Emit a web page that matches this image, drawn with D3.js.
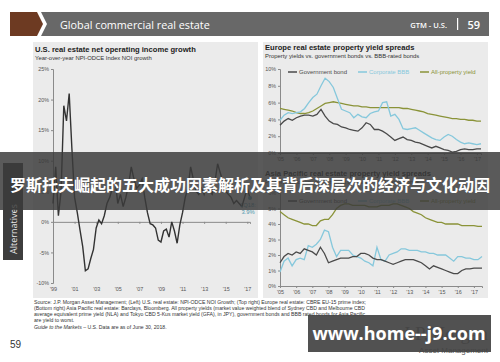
<!DOCTYPE html>
<html><head><meta charset="utf-8">
<script src="https://cdn.jsdelivr.net/npm/d3@7"></script>
<style>
body{margin:0;background:#fff;}
svg{display:block;font-family:"Liberation Sans",Arial,sans-serif;}
</style>
</head><body>
<svg id="c" width="500" height="362"></svg>
<script>
// ---------------- DATA ----------------
// Left: U.S. NPI-ODCE NOI growth, y/y %, quarterly from 1Q99
const usNoi = [
  3, 9, 1, 5,
  19, 16.5, 21, 12,
  4, 1.5, -1.3, -4,
  -8, -7.7, -6, -4.5,
  -1, 0.3, -0.3, 1,
  3, 4, 5.5, 7,
  3, 4.5, 2.5, 4,
  6, 9, 7, 5.5,
  6, 7, 4, 1.5,
  -0.3, -0.5, -1, -3,
  -3.3, -1.5, -1.2, -2.5,
  0, -1.5, -3.5, -0.5,
  1.5, 4, 5.5, 9,
  7, 5, 4.5, 5.5,
  4.5, 6, 5, 4.5,
  6.5, 9.5, 8, 6.5,
  5, 4.5, 4, 3,
  3.5, 3, 2.5, 4,
  5.5, 3.9
];
const usStartYear = 1999;
const usTickYears = [1999, 2001, 2003, 2005, 2007, 2009, 2011, 2013, 2015, 2017];
const usTickLabels = ["'99", "'01", "'03", "'05", "'07", "'09", "'11", "'13", "'15", "'17"];
const usYTicks = [-10, -5, 0, 5, 10, 15, 20, 25];
const usLastLabel = ["1Q18:", "3.9%"];

// Top right: Europe, quarterly from 1Q05 (%)
const euGov = [3.3,3.8,4.1,3.9, 4.2,4.4,4.5,4.5, 4.4,4.6,5.2,4.4, 3.8,3.5,3.4,3.1, 3.0,2.8,2.7,2.6,
  3.0,3.6,3.4,2.8, 2.8,2.6,2.3,1.9, 1.5,1.7,1.9,1.6, 1.5,1.3,1.2,1.0, 0.8,0.6,0.8,0.6,
  0.4,0.3,0.1,0.2, 0.4,0.5,0.4,0.4, 0.5,0.5];
const euBbb = [3.9,4.5,4.8,4.7, 4.8,4.9,5.3,6.0, 6.6,7.0,8.0,8.9, 8.5,7.8,6.5,5.2, 5.0,4.8,4.2,4.6,
  4.3,4.2,4.7,4.9, 5.0,6.0,6.1,4.4, 4.6,4.0,2.9,2.8, 2.9,3.0,2.7,2.4, 2.1,1.8,1.6,1.5,
  1.9,2.2,2.0,1.6, 1.3,1.1,1.2,1.1, 1.0,1.1];
const euProp = [5.3,5.2,5.1,5.0, 4.8,4.7,4.7,4.8, 5.0,5.3,5.6,5.9, 6.0,6.1,6.0,5.9, 5.8,5.7,5.6,5.6,
  5.5,5.5,5.4,5.4, 5.4,5.4,5.4,5.4, 5.4,5.4,5.3,5.3, 5.2,5.1,5.0,4.9, 4.7,4.6,4.5,4.4,
  4.3,4.2,4.1,4.1, 4.0,4.0,3.9,3.9, 3.8,3.8];
const euYTicks = [0, 2, 4, 6, 8, 10];

// Bottom right: Asia Pacific, quarterly from 1Q05 (%)
const apGov = [1.5,1.9,2.1,2.0, 2.2,2.1,2.4,2.3, 2.2,2.0,2.5,2.1, 1.5,1.6,1.7,1.8, 1.8,1.8,1.9,1.9,
  2.1,2.1,2.0,1.8, 1.7,1.7,1.6,1.5, 1.4,1.5,1.6,1.7, 1.7,1.7,1.6,1.5, 1.3,1.1,1.3,1.2,
  1.1,1.0,0.9,0.8, 0.8,1.0,1.1,1.1, 1.15,1.15,1.15];
const apBbb = [0.9,1.6,1.8,1.3, 1.7,1.8,1.7,2.6, 2.5,2.7,3.0,3.6, 3.5,2.5,1.9,2.3, 2.3,2.3,2.0,1.9,
  1.8,1.6,1.5,1.3, 2.5,1.7,1.6,2.0, 2.1,2.2,2.4,2.4, 2.3,2.3,2.3,2.2, 2.2,2.1,2.1,2.0,
  2.0,2.0,1.8,1.6, 1.9,1.9,1.8,1.8, 1.7,1.7,1.9];
const apProp = [4.8,4.6,4.4,4.3, 4.2,4.1,4.0,4.0, 3.9,3.9,4.2,4.3, 4.3,4.6,5.0,5.2, 5.3,5.3,5.2,5.2,
  5.2,5.2,5.1,5.1, 5.1,5.2,5.2,5.2, 5.3,5.3,5.2,5.1, 5.0,4.8,4.7,4.6, 4.4,4.3,4.2,4.1,
  4.1,4.0,4.0,4.0, 4.0,3.9,3.9,3.9, 3.9,3.85,3.85];
const apYTicks = [0, 1, 2, 3, 4, 5, 6];

const yieldStartYear = 2005;
const yieldTickYears = [2005,2006,2007,2008,2009,2010,2011,2012,2013,2014,2015,2016,2017];
const yieldTickLabels = ["'05","'06","'07","'08","'09","'10","'11","'12","'13","'14","'15","'16","'17"];
const legendNames = ["Government bond", "Corporate BBB", "All-property yield"];

const sourceLines = [
  "Source: J.P. Morgan Asset Management; (Left) U.S. real estate: NPI-ODCE NOI Growth; (Top right) Europe real estate: CBRE EU-15 prime index;",
  "(Bottom right) Asia Pacific real estate: Barclays, Bloomberg. All property yields (market value weighted blend of Sydney CBD and Melbourne CBD",
  "average equivalent prime yield (NLA) and Tokyo CBD 5-Kus market yield (GFA), in JPY), government bonds and BBB rated bonds for Asia Pacific",
  "are yield to worst."
];

// ---------------- STYLE ----------------
const C = {
  brown: "#6d3a22", bar: "#686868", panel: "#ebebeb", axis: "#8a8a8a", tick: "#555",
  line: "#333333", gov: "#4a4a4a", bbb: "#86c8dc", prop: "#8a9338", teal: "#4f97ad"
};
const svg = d3.select("#c");

// ---------------- HEADER ----------------
svg.append("polygon").attr("points", "10,12 37,12 43,24 37,36 10,36").attr("fill", C.brown);
svg.append("polygon").attr("points", "41,12 489,12 489,36 41,36 47,24").attr("fill", C.bar);
svg.append("text").attr("x", 60).attr("y", 28.5).attr("fill", "#fff")
  .style("font-family", "'Open Sans',sans-serif").style("font-size", "10.8px")
  .text("Global commercial real estate");
svg.append("text").attr("x", 447).attr("y", 28).attr("text-anchor", "end").attr("fill", "#fff")
  .style("font-family", "'Open Sans',sans-serif").style("font-size", "7.5px").style("font-weight", "600")
  .text("GTM - U.S.");
svg.append("rect").attr("x", 457).attr("y", 18).attr("width", 1.2).attr("height", 12).attr("fill", "#fff");
svg.append("text").attr("x", 480).attr("y", 29).attr("text-anchor", "end").attr("fill", "#fff")
  .style("font-family", "'Open Sans',sans-serif").style("font-size", "11px").style("font-weight", "600")
  .text("59");

// ---------------- PANELS ----------------
svg.append("rect").attr("x", 33).attr("y", 42).attr("width", 225).attr("height", 256).attr("fill", C.panel);
svg.append("rect").attr("x", 263).attr("y", 42).attr("width", 225).attr("height", 256).attr("fill", C.panel);

function title(x, y, t, sub) {
  svg.append("text").attr("x", x).attr("y", y).attr("fill", "#222")
    .style("font-size", "7.6px").style("font-weight", "bold").text(t);
  svg.append("text").attr("x", x).attr("y", y + 8).attr("fill", "#333")
    .style("font-size", "5.9px").text(sub);
}

function styleAxis(g) {
  g.selectAll(".domain").attr("stroke", C.axis);
  g.selectAll(".tick line").attr("stroke", C.axis);
  g.selectAll("text").attr("fill", C.tick).style("font-size", "5.4px").style("font-family", "'Liberation Sans',Arial,sans-serif");
}

// ---------------- LEFT CHART ----------------
title(35, 52, "U.S. real estate net operating income growth", "Year-over-year NPI-ODCE Index NOI growth");
const lx = d3.scaleLinear().domain([1999, 2017.25]).range([53, 250]);
const ly = d3.scaleLinear().domain([-10, 25]).range([283, 69]);
svg.append("g").attr("transform", "translate(53,0)")
  .call(d3.axisLeft(ly).tickValues(usYTicks).tickSize(2).tickPadding(2).tickFormat(d => d + "%"))
  .call(styleAxis);
svg.append("g").attr("transform", `translate(0,${ly(0)})`)
  .call(d3.axisBottom(lx).tickValues(usTickYears).tickSize(2).tickFormat(""))
  .call(styleAxis);
svg.append("g").attr("transform", `translate(0,${ly(-10)})`)
  .call(d3.axisBottom(lx).tickValues(usTickYears).tickSize(0).tickPadding(4)
    .tickFormat((d, i) => usTickLabels[i]))
  .call(styleAxis).call(g => g.select(".domain").remove());
const usPts = usNoi.map((v, i) => [usStartYear + i * 0.25, v]);
svg.append("path").datum(usPts).attr("fill", "none").attr("stroke", C.line).attr("stroke-width", 1.4)
  .attr("d", d3.line().x(d => lx(d[0])).y(d => ly(d[1])));
const last = usPts[usPts.length - 1];
svg.append("circle").attr("cx", lx(last[0])).attr("cy", ly(last[1])).attr("r", 2).attr("fill", C.teal);
usLastLabel.forEach((t, i) => {
  svg.append("text").attr("x", lx(last[0]) - 2).attr("y", ly(last[1]) + 9 + i * 7)
    .attr("text-anchor", "middle").attr("fill", C.teal).style("font-size", "5.8px").text(t);
});

// ---------------- RIGHT CHARTS ----------------
function yieldChart(cfg) {
  const x = d3.scaleLinear().domain(cfg.xDomain).range(cfg.xRange);
  const y = d3.scaleLinear().domain(cfg.yDomain).range(cfg.yRange);
  svg.append("g").attr("transform", `translate(${cfg.xRange[0]},0)`)
    .call(d3.axisLeft(y).tickValues(cfg.yTicks).tickSize(2).tickPadding(2).tickFormat(d => d + "%"))
    .call(styleAxis);
  svg.append("g").attr("transform", `translate(0,${y(0)})`)
    .call(d3.axisBottom(x).tickValues(yieldTickYears).tickSize(2).tickPadding(2)
      .tickFormat((d, i) => yieldTickLabels[i]))
    .call(styleAxis);
  const series = [[cfg.gov, C.gov], [cfg.bbb, C.bbb], [cfg.prop, C.prop]];
  const line = d3.line().x((d, i) => x(yieldStartYear + i * 0.25)).y(d => y(d));
  [series[2], series[1], series[0]].forEach(([data, col]) => {
    svg.append("path").datum(data).attr("fill", "none").attr("stroke", col)
      .attr("stroke-width", 1.3).attr("d", line);
  });
  const lgX = [288, 358, 420];
  const lgCol = [C.gov, C.bbb, C.prop];
  legendNames.forEach((n, i) => {
    svg.append("line").attr("x1", lgX[i]).attr("x2", lgX[i] + 9).attr("y1", cfg.legendY).attr("y2", cfg.legendY)
      .attr("stroke", lgCol[i]).attr("stroke-width", 1.5);
    svg.append("text").attr("x", lgX[i] + 11).attr("y", cfg.legendY + 2).attr("fill", lgCol[i])
      .style("font-size", "6px").text(n);
  });
}
title(265, 50, "Europe real estate property yield spreads", "Property yields vs. government bonds vs. BBB-rated bonds");
yieldChart({ xDomain: [2005, 2017.25], xRange: [280, 481], yDomain: [0, 10], yRange: [153, 69],
  yTicks: euYTicks, gov: euGov, bbb: euBbb, prop: euProp, legendY: 72 });
title(265, 176, "Asia Pacific real estate property yield spreads", "Property yields vs. government bonds vs. BBB-rated bonds");
yieldChart({ xDomain: [2005, 2017.5], xRange: [280, 482], yDomain: [0, 6], yRange: [286, 193],
  yTicks: apYTicks, gov: apGov, bbb: apBbb, prop: apProp, legendY: 201 });

// ---------------- SIDE TAB ----------------
svg.append("rect").attr("x", 3).attr("y", 163).attr("width", 20).attr("height", 97).attr("fill", "#3d3d3d");
svg.append("text").attr("transform", "translate(17,229) rotate(-90)").attr("text-anchor", "middle")
  .attr("fill", "#e6e6e6").style("font-family", "'Open Sans',sans-serif").style("font-size", "9px").text("Alternatives");

// ---------------- SOURCE / FOOTER ----------------
sourceLines.forEach((t, i) => {
  svg.append("text").attr("x", 34).attr("y", 304 + i * 6).attr("fill", "#333").style("font-size", "5.15px").text(t);
});
const g2m = svg.append("text").attr("x", 34).attr("y", 329).attr("fill", "#333").style("font-size", "5.15px");
g2m.append("tspan").style("font-style", "italic").text("Guide to the Markets");
g2m.append("tspan").text(" – U.S. Data are as of June 30, 2018.");
svg.append("text").attr("x", 10).attr("y", 348).attr("fill", "#333").style("font-size", "10px").text("59");

// J.P. Morgan logo (partly covered by watermark)
svg.append("text").attr("x", 488).attr("y", 340).attr("text-anchor", "end").attr("fill", "#5a5a5a")
  .style("font-family", "'Liberation Serif',serif").style("font-size", "19px").text("J.P.Morgan");
svg.append("text").attr("x", 488).attr("y", 353).attr("text-anchor", "end").attr("fill", "#5a5a5a")
  .style("font-size", "8px").text("Asset Management");

// ---------------- OVERLAYS ----------------
svg.append("rect").attr("x", 0).attr("y", 152).attr("width", 500).attr("height", 58)
  .attr("fill", "#3a3a3a").attr("opacity", 0.84);
svg.append("text").attr("x", 250).attr("y", 191).attr("text-anchor", "middle").attr("fill", "#fff")
  .style("font-family", "'Noto Sans CJK SC',sans-serif").style("font-size", "16px").style("font-weight", "bold")
  .text("罗斯托夫崛起的五大成功因素解析及其背后深层次的经济与文化动因");
svg.append("rect").attr("x", 308).attr("y", 315).attr("width", 183).attr("height", 37)
  .attr("fill", "#444").attr("opacity", 0.93);
svg.append("text").attr("x", 399).attr("y", 340).attr("text-anchor", "middle").attr("fill", "#fff")
  .style("font-family", "'Open Sans',sans-serif").style("font-size", "18px").style("font-weight", "bold")
  .text("www.home--j9.com");
</script>
</body></html>
